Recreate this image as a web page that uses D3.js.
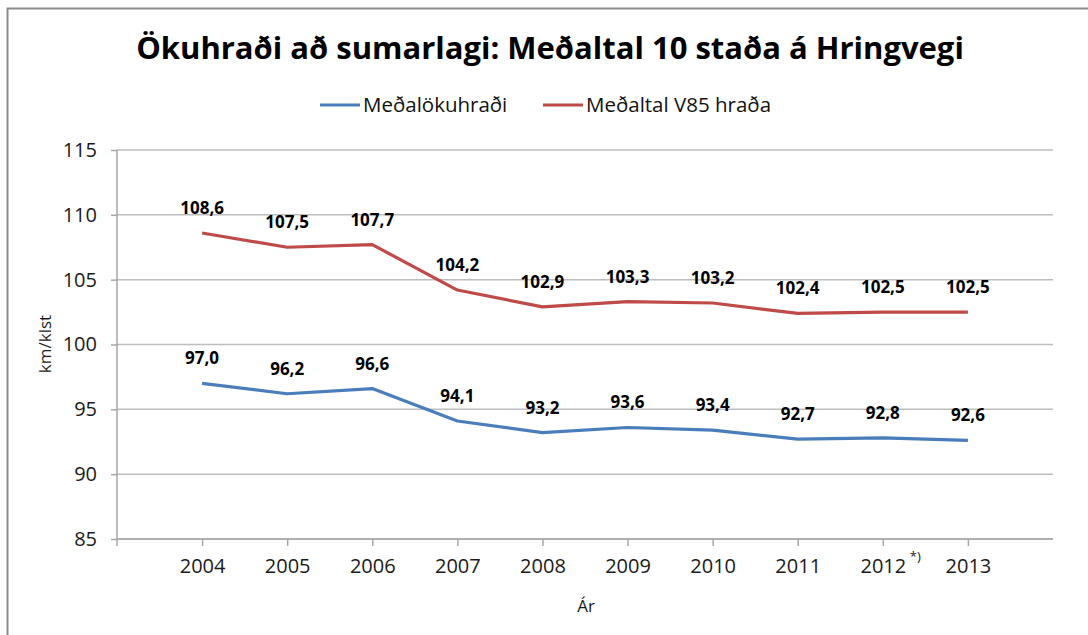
<!DOCTYPE html>
<html>
<head>
<meta charset="utf-8">
<script src="https://cdn.jsdelivr.net/npm/d3@7"></script>
<style>
  body { margin: 0; background: #fff; }
  text { font-family: "Open Sans", sans-serif; fill: #1a1a1a; }
</style>
</head>
<body>
<div id="grafica"></div>
<script>
// datos
const years = [2004, 2005, 2006, 2007, 2008, 2009, 2010, 2011, 2012, 2013]
const medal = [97.0, 96.2, 96.6, 94.1, 93.2, 93.6, 93.4, 92.7, 92.8, 92.6]
const v85 = [108.6, 107.5, 107.7, 104.2, 102.9, 103.3, 103.2, 102.4, 102.5, 102.5]
const yTicks = [85, 90, 95, 100, 105, 110, 115]
const seriesNames = ['Meðalökuhraði', 'Meðaltal V85 hraða']
const colors = ['#4a7ebb', '#be4b48']

const svgWidth = 1088
const svgHeight = 635
const margin = { top: 150, right: 35, bottom: 96, left: 117 }
const chartWidth = svgWidth - margin.left - margin.right
const chartHeight = svgHeight - margin.top - margin.bottom

const scaleX = d3.scaleLinear()
    .domain([years[0] - 1, years[years.length - 1] + 1])
    .range([0, chartWidth])

const scaleY = d3.scaleLinear()
    .domain([85, 115])
    .range([chartHeight, 0])

const svg = d3.select('#grafica')
    .append('svg')
    .attr('width', svgWidth)
    .attr('height', svgHeight)

// marco
svg.append('rect')
    .attr('x', 7.5).attr('y', 8.5)
    .attr('width', 1200).attr('height', 800)
    .style('fill', 'none')
    .style('stroke', '#8c8c8c')
    .style('stroke-width', 2)

// titulo
svg.append('text')
    .attr('x', 550).attr('y', 59)
    .attr('text-anchor', 'middle')
    .style('font-size', '31px')
    .style('font-weight', 'bold')
    .style('fill', '#000')
    .text('Ökuhraði að sumarlagi: Meðaltal 10 staða á Hringvegi')

// leyenda
const legendX = [320, 543]
seriesNames.forEach((name, i) => {
    svg.append('line')
        .attr('x1', legendX[i]).attr('x2', legendX[i] + 40)
        .attr('y1', 105).attr('y2', 105)
        .style('stroke', colors[i])
        .style('stroke-width', 3)
    svg.append('text')
        .attr('x', legendX[i] + 43).attr('y', 112)
        .style('font-size', '20.5px')
        .style('fill', '#111')
        .text(name)
})

const g = svg.append('g')
    .attr('transform', `translate(${margin.left},${margin.top})`)

// rejilla
g.selectAll('.grid')
    .data(yTicks)
    .enter()
    .append('line')
    .attr('class', 'grid')
    .attr('x1', 0).attr('x2', chartWidth)
    .attr('y1', d => scaleY(d)).attr('y2', d => scaleY(d))
    .style('stroke', '#bdbdbd')
    .style('stroke-width', 1.5)

// eje Y
const axisY = d3.axisLeft(scaleY).tickValues(yTicks).tickSize(6).tickPadding(14)
const gy = g.append('g').call(axisY)
gy.select('.domain').attr('d', `M0,0V${chartHeight + 7}`)
gy.selectAll('line, path').style('stroke', '#a6a6a6').style('stroke-width', 1.5)
gy.selectAll('text').style('font-size', '20px').style('font-family', '"Open Sans", sans-serif').attr('fill', '#111')

// eje X
const axisX = d3.axisBottom(scaleX).tickValues(years).tickSize(7).tickPadding(13).tickFormat(d3.format('d'))
const gx = g.append('g')
    .attr('transform', `translate(0,${chartHeight})`)
    .call(axisX)
gx.select('.domain').attr('d', `M0,0H${chartWidth}`)
gx.selectAll('line, path').style('stroke', '#a6a6a6').style('stroke-width', 1.5)
gx.selectAll('text').style('font-size', '20px').style('font-family', '"Open Sans", sans-serif').attr('fill', '#111')

// nota 2012
g.append('text')
    .attr('x', scaleX(2012) + 27).attr('y', chartHeight + 22)
    .style('font-size', '13px')
    .text('*)')

// titulos de ejes
svg.append('text')
    .attr('transform', 'translate(51,344) rotate(-90)')
    .attr('text-anchor', 'middle')
    .style('font-size', '17px')
    .text('km/klst')

svg.append('text')
    .attr('x', 586).attr('y', 612)
    .attr('text-anchor', 'middle')
    .style('font-size', '17px')
    .text('Ár')

// lineas
const series = [medal, v85]
const line = d3.line()
    .x((d, i) => scaleX(years[i]))
    .y(d => scaleY(d))

series.forEach((vals, s) => {
    g.append('path')
        .datum(vals)
        .attr('d', line)
        .style('fill', 'none')
        .style('stroke', colors[s])
        .style('stroke-width', 3.2)
        .style('stroke-linejoin', 'round')

    g.selectAll('.lbl' + s)
        .data(vals)
        .enter()
        .append('text')
        .attr('class', 'lbl' + s)
        .attr('x', (d, i) => scaleX(years[i]))
        .attr('y', d => scaleY(d) - 19)
        .attr('text-anchor', 'middle')
        .style('font-size', '17px')
        .style('font-weight', 'bold')
        .style('fill', '#000')
        .text(d => d.toFixed(1).replace('.', ','))
})
</script>
</body>
</html>
